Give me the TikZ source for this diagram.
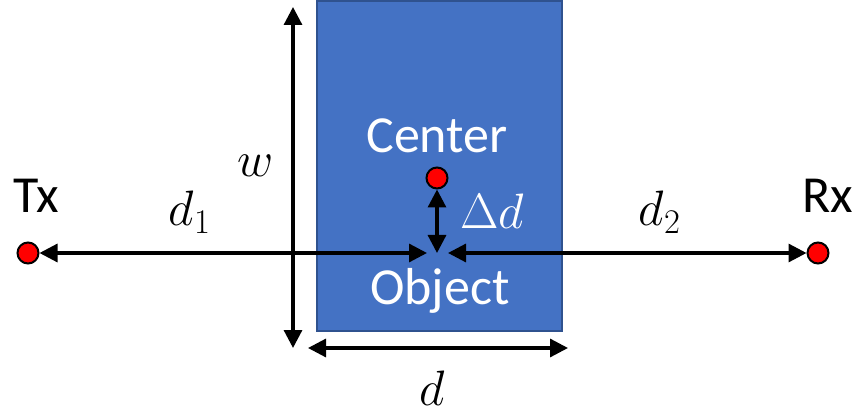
\documentclass[tikz,border=0pt]{standalone}
\usepackage{fontspec}
\setmainfont{Carlito}
\usepackage{tikz}
\usetikzlibrary{arrows.meta,positioning}
\definecolor{objblue}{HTML}{4472C4}
\definecolor{objedge}{HTML}{2F528F}
\definecolor{dotred}{HTML}{FF0000}

\begin{document}
\begin{tikzpicture}[x=0.5pt,y=-0.5pt,
                    dot/.style={circle,draw=black,line width=1pt,fill=dotred,minimum size=10.5pt,inner sep=0pt},
                    dim/.style={{Triangle[length=9pt,width=9pt]}-{Triangle[length=9pt,width=9pt]},line width=1.6pt,black},
                    lbl/.style={font=\fontsize{26}{30}\selectfont,color=black},
                    wlbl/.style={lbl,color=white}]
  \useasboundingbox (0,0) rectangle (855,416);
  % object
  \draw[objedge,fill=objblue,line width=0.6pt] (317,1) rectangle (562,331);
  \node[wlbl] (center) at (437,136) {Center};
  \node[wlbl] (object) at (440,291) {Object};
  % transmitter, receiver, centre point
  \node[dot] (tx) at (28,253) {};
  \node[dot] (rx) at (818,253) {};
  \node[dot] (mid) at (437,178) {};
  \node[lbl] (txlab) at (36,196) {Tx};
  \node[lbl] (rxlab) at (828,196) {Rx};
  \coordinate (objL) at (427,253);
  \coordinate (objR) at (448,253);
  \coordinate (objB) at (437,253);
  \draw[dim] (tx) -- (objL);
  \draw[dim] (objR) -- (rx);
  \draw[dim] (mid) -- (objB);
  % sizes of the object
  \coordinate (wtop) at (293,7);
  \coordinate (wbot) at (293,348);
  \coordinate (dleft) at (308,348);
  \coordinate (dright) at (568,348);
  \draw[dim] (wtop) -- (wbot);
  \draw[dim] (dleft) -- (dright);
  \node[lbl] (wlab) at (256,166) {$w$};
  \node[lbl] (dlab) at (432,388) {$d$};
  \node[lbl] (d1lab) at (190,212) {$d_1$};
  \node[lbl] (d2lab) at (660,212) {$d_2$};
  \node[wlbl] (ddlab) at (492,211) {$\Delta d$};
\end{tikzpicture}
\end{document}
